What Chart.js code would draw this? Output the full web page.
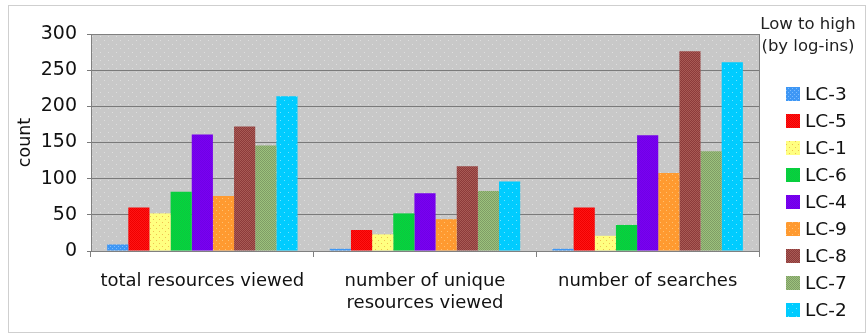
<!DOCTYPE html>
<html>
<head>
<meta charset="utf-8">
<script src="https://cdn.jsdelivr.net/npm/chart.js@4/dist/chart.umd.min.js"></script>
<style>
  html, body { margin: 0; padding: 0; background: #fff; }
  #wrap { width: 867px; height: 335px; position: relative; }
</style>
</head>
<body>
<div id="wrap"><canvas id="usage"></canvas></div>
<script>
// activity measures per learning community, ordered low to high by log-ins
var categories = [
  'total resources viewed',
  ['number of unique', 'resources viewed'],
  'number of searches'
];
var groupNames = ['LC-3', 'LC-5', 'LC-1', 'LC-6', 'LC-4', 'LC-9', 'LC-8', 'LC-7', 'LC-2'];

var lc3 = [9, 3, 3];
var lc5 = [60, 29, 60];
var lc1 = [52, 23, 21];
var lc6 = [82, 52, 36];
var lc4 = [161, 80, 160];
var lc9 = [76, 44, 108];
var lc8 = [172, 117, 276];
var lc7 = [146, 83, 138];
var lc2 = [214, 96, 261];

var yTicks = [0, 50, 100, 150, 200, 250, 300];
var legendTitle = ['Low to high', '(by log-ins)'];

var FONT = '"DejaVu Sans", Verdana, sans-serif';

// small tiled fills, base colour with a sprinkling of dots
function speckle(base, dot, step, offsetRows) {
  var c = document.createElement('canvas');
  c.width = step * 2; c.height = step * 2;
  var g = c.getContext('2d');
  g.fillStyle = base;
  g.fillRect(0, 0, c.width, c.height);
  g.fillStyle = dot;
  g.fillRect(0, 0, 1, 1);
  if (offsetRows) g.fillRect(step, step, 1, 1);
  return g.createPattern(c, 'repeat');
}

function dither(a, b) {
  var c = document.createElement('canvas');
  c.width = 2; c.height = 2;
  var g = c.getContext('2d');
  g.fillStyle = a; g.fillRect(0, 0, 2, 2);
  g.fillStyle = b; g.fillRect(0, 0, 1, 1); g.fillRect(1, 1, 1, 1);
  return g.createPattern(c, 'repeat');
}

var fills = [
  speckle('#3e97f5', '#7cbcff', 2, true),
  dither('#ff1414', '#f00000'),
  speckle('#ffff80', '#f0c050', 3, true),
  dither('#00dd3c', '#10c040'),
  dither('#7a00f2', '#7000e6'),
  speckle('#ff9a30', '#ffc070', 3, true),
  dither('#8c3a3a', '#a85a55'),
  dither('#9cc27c', '#7f9c66'),
  speckle('#00ccff', '#70e4ff', 4, true)
];

var series = [lc3, lc5, lc1, lc6, lc4, lc9, lc8, lc7, lc2];
var datasets = groupNames.map(function(name, i) {
  return {
    label: name,
    data: series[i],
    backgroundColor: fills[i],
    borderWidth: 0,
    barPercentage: 1,
    categoryPercentage: 0.855
  };
});

var plotBg = speckle('#c8c8c8', '#dedede', 4, true);

// grey plot background, outer frame and the side legend
var decorations = {
  id: 'decorations',
  beforeDraw: function(chart) {
    var ctx = chart.ctx, a = chart.chartArea;
    ctx.save();
    ctx.fillStyle = '#fff';
    ctx.fillRect(0, 0, chart.width, chart.height);
    ctx.strokeStyle = '#cfcfcf';
    ctx.lineWidth = 1;
    ctx.strokeRect(8.5, 5.5, 857, 327);
    ctx.fillStyle = plotBg;
    ctx.fillRect(a.left, a.top, a.right - a.left, a.bottom - a.top);
    ctx.restore();
  },
  afterDraw: function(chart) {
    var ctx = chart.ctx, a = chart.chartArea;
    ctx.save();
    ctx.strokeStyle = '#808080';
    ctx.lineWidth = 1;
    ctx.strokeRect(Math.round(a.left) + 0.5, Math.round(a.top) + 0.5,
                   Math.round(a.right - a.left), Math.round(a.bottom - a.top));

    ctx.fillStyle = '#222';
    ctx.font = '16.5px ' + FONT;
    ctx.textAlign = 'center';
    ctx.textBaseline = 'middle';
    ctx.fillText(legendTitle[0], 808, 25);
    ctx.fillText(legendTitle[1], 808, 47);

    ctx.font = '18.5px ' + FONT;
    ctx.textAlign = 'left';
    chart.data.datasets.forEach(function(ds, i) {
      var y = 94 + 27 * i;
      ctx.fillStyle = ds.backgroundColor;
      ctx.fillRect(786, y - 7, 14, 14);
      ctx.fillStyle = '#111';
      ctx.fillText(ds.label, 805, y + 1);
    });
    ctx.restore();
  }
};

new Chart(document.getElementById('usage'), {
  type: 'bar',
  data: { labels: categories, datasets: datasets },
  options: {
    responsive: true,
    maintainAspectRatio: false,
    animation: false,
    layout: { padding: { top: 34, right: 108, bottom: 0, left: 0 } },
    plugins: {
      legend: { display: false },
      tooltip: { enabled: false }
    },
    scales: {
      x: {
        offset: true,
        grid: {
          offset: true,
          drawOnChartArea: false,
          drawTicks: true,
          tickLength: 6,
          color: '#808080'
        },
        border: { display: true, color: '#808080' },
        ticks: {
          color: '#111',
          font: { family: FONT, size: 18, lineHeight: 1.22 },
          padding: 13,
          maxRotation: 0,
          autoSkip: false
        },
        afterFit: function(scale) { scale.height = 84; }
      },
      y: {
        min: 0,
        max: 300,
        afterBuildTicks: function(scale) {
          scale.ticks = yTicks.map(function(v) { return { value: v }; });
        },
        grid: {
          color: '#7a7a7a',
          tickLength: 4,
          drawTicks: true
        },
        border: { display: true, color: '#808080' },
        ticks: {
          color: '#111',
          font: { family: FONT, size: 19 },
          padding: 10
        },
        title: {
          display: true,
          text: 'count',
          color: '#111',
          font: { family: FONT, size: 17.5 },
          padding: { top: 15, bottom: 0 }
        },
        afterFit: function(scale) { scale.width = 91; }
      }
    }
  },
  plugins: [decorations]
});
</script>
</body>
</html>
